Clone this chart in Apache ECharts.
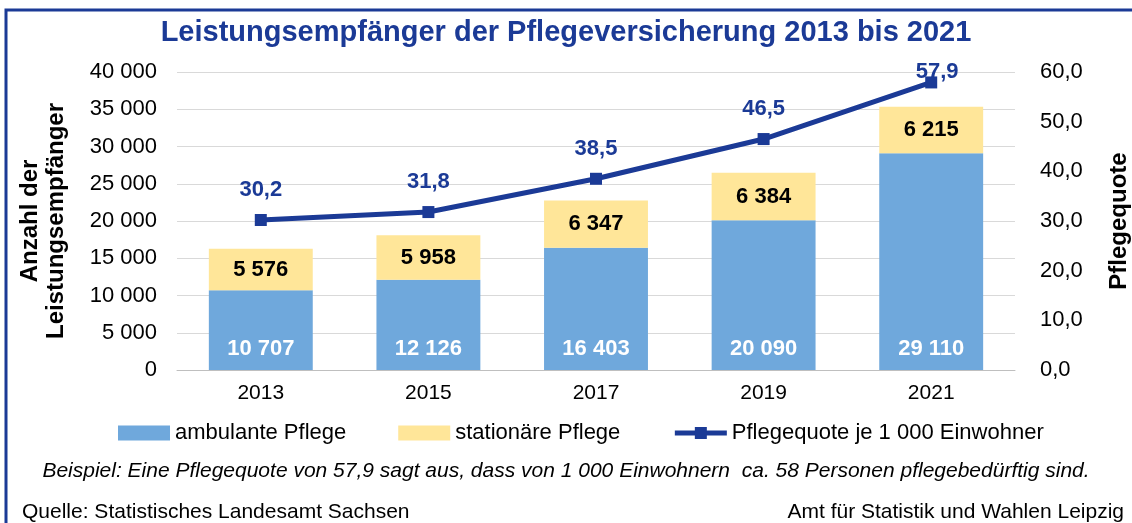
<!DOCTYPE html>
<html>
<head>
<meta charset="utf-8">
<script src="https://cdn.jsdelivr.net/npm/echarts@6/dist/echarts.min.js"></script>
<style>
  html, body { margin: 0; padding: 0; background: #fff; }
  #chart { width: 1132px; height: 523px; }
</style>
</head>
<body>
<div id="chart"></div>
<script>
// chart data
const years = ['2013', '2015', '2017', '2019', '2021']
const ambulant = [10707, 12126, 16403, 20090, 29110]
const stationaer = [5576, 5958, 6347, 6384, 6215]
const quote = [30.2, 31.8, 38.5, 46.5, 57.9]

const blue = '#1b3a96'
const font = '"Liberation Sans", Arial, sans-serif'

// 10707 -> "10 707"
function fmtNum(v) {
  return String(v).replace(/\B(?=(\d{3})+(?!\d))/g, ' ')
}
function fmtDec(v) {
  return v.toFixed(1).replace('.', ',')
}

const chart = echarts.init(document.getElementById('chart'))
const option = {
  animation: false,
  textStyle: { fontFamily: font },
  title: {
    text: 'Leistungsempfänger der Pflegeversicherung 2013 bis 2021',
    left: 'center',
    top: 13,
    textStyle: { color: blue, fontSize: 29, fontWeight: 'bold', fontFamily: font },
  },
  graphic: [
    {
      type: 'rect',
      shape: { x: 6, y: 10, width: 1140, height: 540 },
      style: { fill: 'none', stroke: blue, lineWidth: 3 },
      silent: true,
    },
    {
      type: 'text',
      left: 'center',
      top: 461,
      style: {
        text: 'Beispiel: Eine Pflegequote von 57,9 sagt aus, dass von 1 000 Einwohnern  ca. 58 Personen pflegebedürftig sind.',
        fill: '#000', font: 'italic 21px ' + font,
      },
    },
    {
      type: 'text',
      left: 22,
      top: 502,
      style: { text: 'Quelle: Statistisches Landesamt Sachsen', fill: '#000', font: '21px ' + font },
    },
    {
      type: 'text',
      right: 8,
      top: 502,
      style: { text: 'Amt für Statistik und Wahlen Leipzig', fill: '#000', font: '21px ' + font },
    },
  ],
  legend: {
    top: 417,
    left: 113,
    itemGap: 52,
    itemWidth: 52,
    itemHeight: 15,
    textStyle: { fontSize: 22, color: '#000', fontFamily: font },
    data: [
      { name: 'ambulante Pflege', icon: 'rect' },
      { name: 'stationäre Pflege', icon: 'rect' },
      { name: 'Pflegequote je 1 000 Einwohner', lineStyle: { width: 5 } },
    ],
  },
  grid: { left: 177, right: 117, top: 72, bottom: 153, outerBoundsMode: 'none' },
  xAxis: {
    type: 'category',
    data: years,
    axisLine: { lineStyle: { color: '#bfbfbf' } },
    axisTick: { length: 6, lineStyle: { color: '#bfbfbf' } },
    axisLabel: { color: '#000', fontSize: 21, margin: 13 },
  },
  yAxis: [
    {
      type: 'value',
      min: 0,
      max: 40000,
      interval: 5000,
      name: 'Anzahl der\nLeistungsempfänger',
      nameLocation: 'middle',
      nameRotate: 90,
      nameGap: 108,
      nameTextStyle: { fontSize: 24, fontWeight: 'bold', color: '#000', lineHeight: 26 },
      axisLabel: { color: '#000', fontSize: 22, margin: 20, formatter: fmtNum },
      splitLine: { lineStyle: { color: '#d9d9d9' } },
    },
    {
      type: 'value',
      min: 0,
      max: 60,
      interval: 10,
      name: 'Pflegequote',
      nameLocation: 'middle',
      nameRotate: 90,
      nameGap: 92,
      nameTextStyle: { fontSize: 24, fontWeight: 'bold', color: '#000' },
      axisLabel: { color: '#000', fontSize: 22, margin: 25, formatter: fmtDec },
      splitLine: { show: false },
    },
  ],
  series: [
    {
      name: 'ambulante Pflege',
      type: 'bar',
      stack: 'a',
      barWidth: '62%',
      data: ambulant,
      itemStyle: { color: '#6fa8dc' },
      label: {
        show: true,
        position: 'insideBottom',
        distance: 10,
        color: '#fff',
        fontSize: 22,
        fontWeight: 'bold',
        formatter: p => fmtNum(p.value),
      },
    },
    {
      name: 'stationäre Pflege',
      type: 'bar',
      stack: 'a',
      data: stationaer,
      itemStyle: { color: '#ffe699' },
      label: {
        show: true,
        position: 'inside',
        color: '#000',
        fontSize: 22,
        fontWeight: 'bold',
        formatter: p => fmtNum(p.value),
      },
    },
    {
      name: 'Pflegequote je 1 000 Einwohner',
      type: 'line',
      yAxisIndex: 1,
      data: quote.map((v, i) => i === quote.length - 1
        ? { value: v, label: { distance: 0, offset: [6, 7] } }
        : v),
      symbol: 'rect',
      symbolSize: 12,
      lineStyle: { color: blue, width: 5 },
      itemStyle: { color: blue },
      label: {
        show: true,
        position: 'top',
        distance: 13,
        color: blue,
        fontSize: 22,
        fontWeight: 'bold',
        formatter: p => fmtDec(p.value),
      },
      z: 5,
    },
  ],
}
chart.setOption(option)
</script>
</body>
</html>
